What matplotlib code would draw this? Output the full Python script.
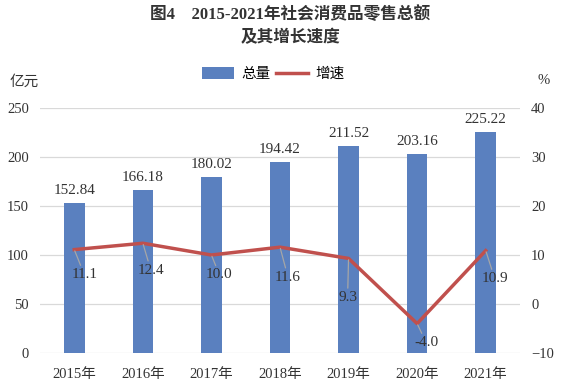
import matplotlib
matplotlib.use("Agg")
import matplotlib.pyplot as plt
from matplotlib.patches import Patch
from matplotlib.lines import Line2D

plt.rcParams['font.family'] = ['Liberation Serif', 'Noto Sans CJK SC', 'DejaVu Sans']

years = ['2015年', '2016年', '2017年', '2018年', '2019年', '2020年', '2021年']
totals = [152.84, 166.18, 180.02, 194.42, 211.52, 203.16, 225.22]
growth = [11.1, 12.4, 10.0, 11.6, 9.3, -4.0, 10.9]
left_ticks = [0, 50, 100, 150, 200, 250]
right_ticks = [-10, 0, 10, 20, 30, 40]
# label offsets in pixels (dx, dy) for growth labels
growth_offsets = [(10, -25), (8, -27), (8, -20), (8, -30), (-1, -39), (9, -19), (9, -28)]

bar_color = '#5A80BF'
line_color = '#C0504D'
text_color = '#333333'

fig = plt.figure(figsize=(5.69, 3.90), dpi=100)
ax = fig.add_axes([40/569, 1-353/390, 480/569, 245/390])
ax2 = ax.twinx()

x = list(range(len(years)))
bars = ax.bar(x, totals, width=0.3, color=bar_color, zorder=2)
ax.set_xlim(-0.5, len(years)-0.5)
ax.set_ylim(0, 250)
ax.set_yticks(left_ticks)
ax.grid(axis='y', color='#D9D9D9', linewidth=0.9, zorder=0)
ax.set_axisbelow(True)
for s in ['top', 'right', 'left', 'bottom']:
    ax.spines[s].set_visible(False)
    ax2.spines[s].set_visible(False)
ax.tick_params(axis='y', length=0, labelsize=10.5, colors=text_color, pad=8)
ax.tick_params(axis='x', length=0, labelsize=10.5, colors=text_color, pad=11)
ax.set_xticks(x)
ax.set_xticklabels(years)

for xi, v in zip(x, totals):
    ax.annotate(f'{v:.2f}', (xi, v), xytext=(0, 6), textcoords='offset pixels',
                ha='center', va='bottom', fontsize=11, color=text_color)

ax2.plot(x, growth, color=line_color, linewidth=2.5, zorder=3)
ax2.set_ylim(-10, 40)
ax2.set_yticks(right_ticks)
ax2.tick_params(axis='y', length=0, labelsize=10.5, colors=text_color, pad=8)

for xi, v, (dx, dy) in zip(x, growth, growth_offsets):
    ax2.annotate(f'{v:.1f}', (xi, v), xytext=(dx, dy), textcoords='offset pixels',
                 ha='center', va='center', fontsize=11, color=text_color,
                 arrowprops=dict(arrowstyle='-', color='#A6A6A6', lw=0.9,
                                 shrinkA=0, shrinkB=1))

fig.text(0.51, 1-15/390, '图4　2015-2021年社会消费品零售总额', ha='center', va='center',
         fontsize=12, fontweight='bold', color=text_color)
fig.text(0.51, 1-38/390, '及其增长速度', ha='center', va='center',
         fontsize=12, fontweight='bold', color=text_color)
fig.text(10/569, 1-82/390, '亿元', ha='left', va='center', fontsize=10.5, color=text_color)
fig.text(537/569, 1-80/390, '%', ha='left', va='center', fontsize=10.5, color=text_color)

handles = [Patch(facecolor=bar_color, edgecolor='none'),
           Line2D([0], [0], color=line_color, linewidth=2.5)]
fig.legend(handles, ['总量', '增速'], loc='center', bbox_to_anchor=(0.48, 1-74/390),
           ncol=2, frameon=False, fontsize=10.5, handlelength=2.2, handleheight=0.9,
           columnspacing=0.4, handletextpad=0.5)

fig.savefig('out.png', dpi=100)
